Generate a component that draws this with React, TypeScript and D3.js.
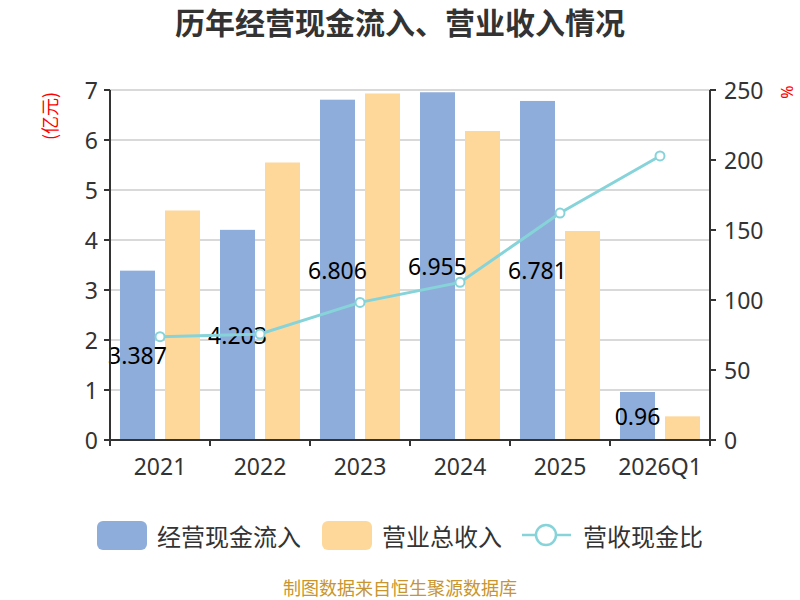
import React from "react";
import * as d3 from "d3";

const categories = ["2021", "2022", "2023", "2024", "2025", "2026Q1"];
const cashFlow = [3.387, 4.203, 6.806, 6.955, 6.781, 0.96];
const revenue = [4.59, 5.55, 6.93, 6.18, 4.18, 0.473];
const ratio = [73.8, 75.7, 98.3, 112.6, 162.1, 202.9];
const leftTicks = [0, 1, 2, 3, 4, 5, 6, 7];
const rightTicks = [0, 50, 100, 150, 200, 250];

const BLUE = "#8EADDA";
const ORANGE = "#FED89B";
const LINE = "#86D4D9";
const AXIS = "#333333";
const FONT = "'Noto Sans', 'Noto Sans CJK SC', sans-serif";
const CJK = "'Noto Sans CJK SC', sans-serif";

export default function App() {
  const left = 110, right = 710, top = 90, bottom = 440;
  const x = d3.scaleBand<string>().domain(categories).range([left, right]).paddingInner(0).paddingOuter(0);
  const yL = d3.scaleLinear().domain([0, 7]).range([bottom, top]);
  const yR = d3.scaleLinear().domain([0, 250]).range([bottom, top]);
  const bw = 35;
  const gap = 10;
  const cx = (c: string) => (x(c) as number) + x.bandwidth() / 2;
  const lineGen = d3
    .line<number>()
    .x((_, i) => cx(categories[i]))
    .y((d) => yR(d));

  return (
    <svg
      width={800}
      height={600}
      style={{ position: "absolute", left: 0, top: 0, background: "#fff" }}
      fontFamily={FONT}
    >
      <text x={400} y={34} textAnchor="middle" fontSize={30} fontWeight="bold" fill="#333" fontFamily={CJK}>
        历年经营现金流入、营业收入情况
      </text>

      {/* grid */}
      {leftTicks.map((t) => (
        <line key={"g" + t} x1={left} x2={right} y1={yL(t)} y2={yL(t)} stroke="#cccccc" strokeWidth={1.5} />
      ))}

      {/* bars */}
      {categories.map((c, i) => (
        <g key={"b" + c}>
          <rect x={cx(c) - gap / 2 - bw} y={yL(cashFlow[i])} width={bw} height={bottom - yL(cashFlow[i])} fill={BLUE} />
          <rect x={cx(c) + gap / 2} y={yL(revenue[i])} width={bw} height={bottom - yL(revenue[i])} fill={ORANGE} />
        </g>
      ))}

      {/* bar labels */}
      {categories.map((c, i) => (
        <text
          key={"l" + c}
          x={cx(c) - gap / 2 - bw / 2}
          y={(yL(cashFlow[i]) + bottom) / 2}
          textAnchor="middle"
          dominantBaseline="central"
          fontSize={23}
          fill="#000"
        >
          {String(cashFlow[i])}
        </text>
      ))}

      {/* line */}
      <path d={lineGen(ratio) || ""} fill="none" stroke={LINE} strokeWidth={3} />
      {ratio.map((v, i) => (
        <circle key={"p" + i} cx={cx(categories[i])} cy={yR(v)} r={4.5} fill="#fff" stroke={LINE} strokeWidth={2} />
      ))}

      {/* left axis */}
      <line x1={left} x2={left} y1={top} y2={bottom + 6} stroke={AXIS} strokeWidth={2} />
      {leftTicks.map((t) => (
        <g key={"lt" + t}>
          <line x1={left - 6} x2={left} y1={yL(t)} y2={yL(t)} stroke={AXIS} strokeWidth={2} />
          <text x={left - 12} y={yL(t)} textAnchor="end" dominantBaseline="central" fontSize={23} fill="#333">
            {t}
          </text>
        </g>
      ))}

      {/* right axis */}
      <line x1={right} x2={right} y1={top} y2={bottom + 6} stroke={AXIS} strokeWidth={2} />
      {rightTicks.map((t) => (
        <g key={"rt" + t}>
          <line x1={right} x2={right + 6} y1={yR(t)} y2={yR(t)} stroke={AXIS} strokeWidth={2} />
          <text x={right + 14} y={yR(t)} textAnchor="start" dominantBaseline="central" fontSize={23} fill="#333">
            {t}
          </text>
        </g>
      ))}

      {/* x axis */}
      <line x1={left} x2={right} y1={bottom} y2={bottom} stroke={AXIS} strokeWidth={2} />
      {categories.map((c) => (
        <line key={"xt" + c} x1={x(c) as number} x2={x(c) as number} y1={bottom} y2={bottom + 6} stroke={AXIS} strokeWidth={2} />
      ))}
      <line x1={right} x2={right} y1={bottom} y2={bottom + 6} stroke={AXIS} strokeWidth={2} />
      {categories.map((c) => (
        <text key={"xl" + c} x={cx(c)} y={466} textAnchor="middle" dominantBaseline="central" fontSize={23} fill="#333">
          {c}
        </text>
      ))}

      {/* axis names */}
      <text
        transform="translate(49,116) rotate(-90)"
        textAnchor="middle"
        dominantBaseline="central"
        fontSize={18}
        fill="#ff0000"
        fontFamily={CJK}
      >
        (亿元)
      </text>
      <text
        transform="translate(787,92) rotate(-90)"
        textAnchor="middle"
        dominantBaseline="central"
        fontSize={16}
        fill="#ff0000"
      >
        %
      </text>

      {/* legend */}
      <rect x={97} y={521} width={50} height={29} rx={6} fill={BLUE} />
      <text x={157} y={535} dominantBaseline="central" fontSize={24} fill="#333" fontFamily={CJK}>
        经营现金流入
      </text>
      <rect x={322} y={521} width={50} height={29} rx={6} fill={ORANGE} />
      <text x={382} y={535} dominantBaseline="central" fontSize={24} fill="#333" fontFamily={CJK}>
        营业总收入
      </text>
      <line x1={522} x2={571} y1={535} y2={535} stroke={LINE} strokeWidth={2.5} />
      <circle cx={546} cy={535} r={10} fill="#fff" stroke={LINE} strokeWidth={2.5} />
      <text x={583} y={535} dominantBaseline="central" fontSize={24} fill="#333" fontFamily={CJK}>
        营收现金比
      </text>

      <text x={400} y={595} textAnchor="middle" fontSize={18} fill="#C8952E" fontFamily={CJK}>
        制图数据来自恒生聚源数据库
      </text>
    </svg>
  );
}
